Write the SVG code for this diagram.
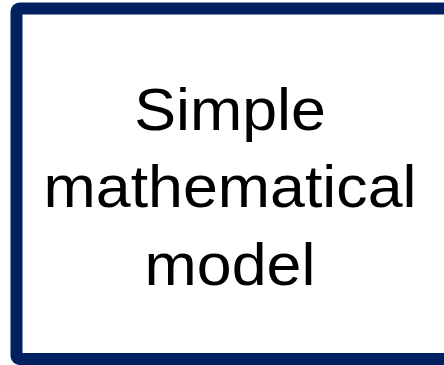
<svg xmlns="http://www.w3.org/2000/svg" width="444" height="365" viewBox="0 0 444 365">
<style>
.box{fill:#ffffff;stroke:#002060;stroke-width:12;stroke-linejoin:round}
.lbl{font-family:"Liberation Sans",Arial,sans-serif;font-size:60px;fill:#000000;text-anchor:middle}
</style>
<rect width="444" height="365" fill="#ffffff"/>
<g id="node-model">
<rect class="box" x="16.5" y="8.5" width="440" height="350.5" rx="3"/>
<g transform="translate(230,0) scale(1.045,1)">
<text class="lbl" x="0" y="130">Simple</text>
<text class="lbl" x="0" y="207">mathematical</text>
<text class="lbl" x="0" y="285">model</text>
</g>
</g>
<g id="connectors"></g>
</svg>
